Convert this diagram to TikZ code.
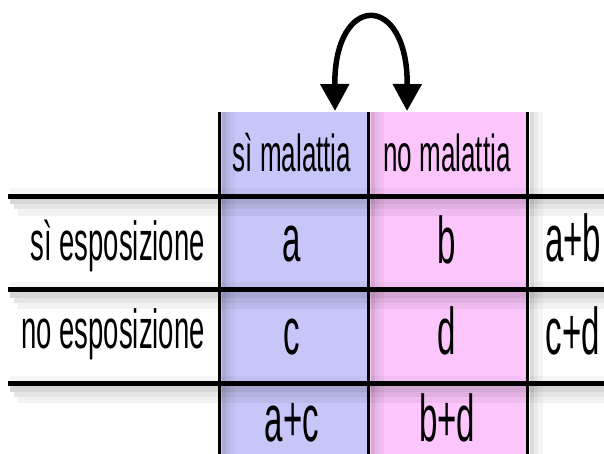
\documentclass[tikz,border=0pt]{standalone}
\usepackage{fontspec}
\usetikzlibrary{arrows.meta}
\newfontfamily\pixfont[FakeStretch=0.5]{Liberation Sans}
\definecolor{malblue}{RGB}{198,198,248}
\definecolor{malpink}{RGB}{252,198,252}
\begin{document}
\begin{tikzpicture}[x=1pt,y=-1pt,
	head/.style={anchor=base,inner sep=0pt,font=\pixfont\fontsize{52}{52}\selectfont},
	rowlab/.style={anchor=base east,inner sep=0pt,font=\pixfont\fontsize{55}{55}\selectfont},
	cell/.style={anchor=base,inner sep=0pt,font=\pixfont\fontsize{66}{66}\selectfont},
	rule/.style={line width=5pt},
	vrule/.style={line width=3.5pt}]
	\useasboundingbox (0,0) rectangle (604,454);
	% columns
	\fill [malblue] (218,112) rectangle (367,454);
	\fill [malpink] (367,112) rectangle (527,454);
	% shadows of the rules
	\foreach \y in {196.5,289.5,383.5} {
		\fill [black,opacity=0.03] (10,\y-8) rectangle (604,\y-2);
		\fill [black,opacity=0.16] (10,\y+2) rectangle (604,\y+8);
		\fill [black,opacity=0.10] (14,\y+8) rectangle (604,\y+13);
		\fill [black,opacity=0.05] (18,\y+13) rectangle (604,\y+19);
	}
	\foreach \x in {219.5,368.5,527.5} {
		\fill [black,opacity=0.14] (\x+2,112) rectangle (\x+6,454);
		\fill [black,opacity=0.08] (\x+6,112) rectangle (\x+10,454);
		\fill [black,opacity=0.04] (\x+10,112) rectangle (\x+15,454);
	}
	% rules
	\draw [rule] (8,196.5) -- (604,196.5);
	\draw [rule] (8,289.5) -- (604,289.5);
	\draw [rule] (8,383.5) -- (604,383.5);
	\draw [vrule] (219.5,112) -- (219.5,454);
	\draw [vrule] (368.5,112) -- (368.5,454);
	\draw [vrule] (527.5,112) -- (527.5,454);
	% texts
	\node [head] (simal) at (292,172) {sì malattia};
	\node [head] (nomal) at (447,172) {no malattia};
	\node [rowlab] (siesp) at (205,260) {sì esposizione};
	\node [rowlab] (noesp) at (205,348) {no esposizione};
	\node [cell] (a) at (292,261) {a};
	\node [cell] (b) at (447,263) {b};
	\node [cell] (ab) at (573,261) {a+b};
	\node [cell] (c) at (292,354) {c};
	\node [cell] (d) at (447,354) {d};
	\node [cell] (cd) at (573,354) {c+d};
	\node [cell] (ac) at (292,441) {a+c};
	\node [cell] (bd) at (447,441) {b+d};
	% arrow
	\coordinate (tipL) at (335,111);
	\coordinate (tipR) at (407,111);
	\draw [line width=5.5pt,{Triangle[width=28pt,length=27pt]}-{Triangle[width=28pt,length=27pt]}]
		(tipL) .. controls (334,-8) and (408,-8) .. (tipR);
\end{tikzpicture}
\end{document}
